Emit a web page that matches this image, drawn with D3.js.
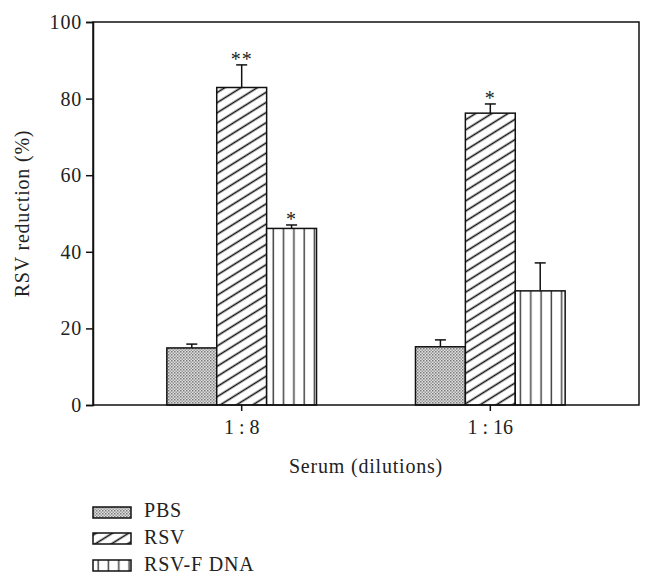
<!DOCTYPE html>
<html><head><meta charset="utf-8">
<script src="https://cdn.jsdelivr.net/npm/d3@7"></script>
<style>body{margin:0;background:#fff}</style>
</head><body>
<svg id="c" width="654" height="588"></svg>
<script>
const categories = ["1 : 8", "1 : 16"];
const seriesNames = ["PBS", "RSV", "RSV-F DNA"];
const pbsValues = [14.9, 15.2];
const pbsErrors = [1.0, 1.8];
const rsvValues = [82.9, 76.2];
const rsvErrors = [5.9, 2.4];
const rsvfValues = [46.1, 29.8];
const rsvfErrors = [0.9, 7.3];
const sigMarks = [["", "**", "*"], ["", "*", ""]];
const yTicks = [0, 20, 40, 60, 80, 100];

const values = [pbsValues, rsvValues, rsvfValues];
const errors = [pbsErrors, rsvErrors, rsvfErrors];
const patternIds = ["pPBS", "pRSV", "pRSVF"];

const svg = d3.select("#c");
const font = "'Liberation Serif','DejaVu Serif',serif";
const fs = 20, ls = 0.8;
const L = 93, R = 639, T = 22, B = 405;

const defs = svg.append("defs");
const p1 = defs.append("pattern").attr("id", "pPBS").attr("patternUnits", "userSpaceOnUse")
  .attr("width", 3).attr("height", 3);
p1.append("rect").attr("width", 3).attr("height", 3).attr("fill", "#e0e0e0");
p1.append("rect").attr("width", 1.5).attr("height", 1.5).attr("fill", "#7a7a7a");
p1.append("rect").attr("x", 1.5).attr("y", 1.5).attr("width", 1.5).attr("height", 1.5).attr("fill", "#9a9a9a");
const p2 = defs.append("pattern").attr("id", "pRSV").attr("patternUnits", "userSpaceOnUse")
  .attr("width", 12).attr("height", 8.6).attr("patternTransform", "rotate(-32)");
p2.append("rect").attr("width", 12).attr("height", 8.6).attr("fill", "#fff");
p2.append("line").attr("x1", 0).attr("x2", 12).attr("y1", 4.3).attr("y2", 4.3)
  .attr("stroke", "#111").attr("stroke-width", 1.6);
const p3 = defs.append("pattern").attr("id", "pRSVF").attr("patternUnits", "userSpaceOnUse")
  .attr("width", 10.3).attr("height", 10).attr("x", 0.5);
p3.append("rect").attr("width", 10.3).attr("height", 10).attr("fill", "#fff");
p3.append("line").attr("x1", 5).attr("x2", 5).attr("y1", 0).attr("y2", 10)
  .attr("stroke", "#444").attr("stroke-width", 1.5);

const x0 = d3.scaleBand().domain(categories).range([L, R]).paddingInner(0.398).paddingOuter(0.297);
const x1 = d3.scaleBand().domain(seriesNames).range([0, x0.bandwidth()]).padding(0);
const y = d3.scaleLinear().domain([0, 100]).range([B, T]);

categories.forEach((c, ci) => {
  seriesNames.forEach((s, si) => {
    const v = values[si][ci], e = errors[si][ci];
    const bx = x0(c) + x1(s), bw = x1.bandwidth();
    const cx = bx + bw / 2;
    svg.append("line").attr("x1", cx).attr("x2", cx).attr("y1", y(v)).attr("y2", y(v + e))
      .attr("stroke", "#111").attr("stroke-width", 1.5);
    svg.append("line").attr("x1", cx - 5.5).attr("x2", cx + 5.5).attr("y1", y(v + e)).attr("y2", y(v + e))
      .attr("stroke", "#111").attr("stroke-width", 1.5);
    svg.append("rect").attr("x", bx).attr("y", y(v)).attr("width", bw).attr("height", y(0) - y(v))
      .attr("fill", `url(#${patternIds[si]})`).attr("stroke", "#111").attr("stroke-width", 1.5);
    const m = sigMarks[ci][si];
    if (m) {
      svg.append("text").attr("x", cx).attr("y", y(v + e) + 1).attr("text-anchor", "middle")
        .attr("font-family", font).attr("font-size", 20).attr("letter-spacing", 1).attr("fill", "#222").text(m);
    }
  });
});

svg.append("rect").attr("x", L).attr("y", T).attr("width", R - L).attr("height", B - T)
  .attr("fill", "none").attr("stroke", "#111").attr("stroke-width", 1.5);

const ya = svg.append("g").attr("transform", `translate(${L},0)`)
  .call(d3.axisLeft(y).tickValues(yTicks).tickSize(7).tickPadding(4));
ya.select(".domain").attr("stroke", "#111").attr("stroke-width", 1.5);
ya.selectAll(".tick line").attr("stroke", "#111").attr("stroke-width", 1.5);
ya.selectAll(".tick text").attr("font-family", font).attr("font-size", fs).attr("letter-spacing", ls).attr("fill", "#222");

const xa = svg.append("g").attr("transform", `translate(0,${B})`)
  .call(d3.axisBottom(x0).tickSize(6).tickPadding(9));
xa.select(".domain").remove();
xa.selectAll(".tick line").attr("stroke", "#111").attr("stroke-width", 1.5);
xa.selectAll(".tick text").attr("font-family", font).attr("font-size", fs).attr("fill", "#222");

svg.append("text").attr("x", (L + R) / 2).attr("y", 473).attr("text-anchor", "middle")
  .attr("font-family", font).attr("font-size", fs).attr("letter-spacing", ls).attr("fill", "#222").text("Serum (dilutions)");
svg.append("text").attr("transform", `translate(29,${(T + B) / 2}) rotate(-90)`).attr("text-anchor", "middle")
  .attr("font-family", font).attr("font-size", fs).attr("letter-spacing", ls).attr("fill", "#222").text("RSV reduction (%)");

const legY = [507, 533, 560];
const legTextY = [517, 544, 571];
seriesNames.forEach((s, si) => {
  svg.append("rect").attr("x", 93).attr("y", legY[si]).attr("width", 38).attr("height", 11)
    .attr("fill", `url(#${patternIds[si]})`).attr("stroke", "#111").attr("stroke-width", 1.5);
  svg.append("text").attr("x", 144).attr("y", legTextY[si]).attr("font-family", font)
    .attr("font-size", fs).attr("letter-spacing", ls).attr("fill", "#222").text(s);
});
</script>
</body></html>
